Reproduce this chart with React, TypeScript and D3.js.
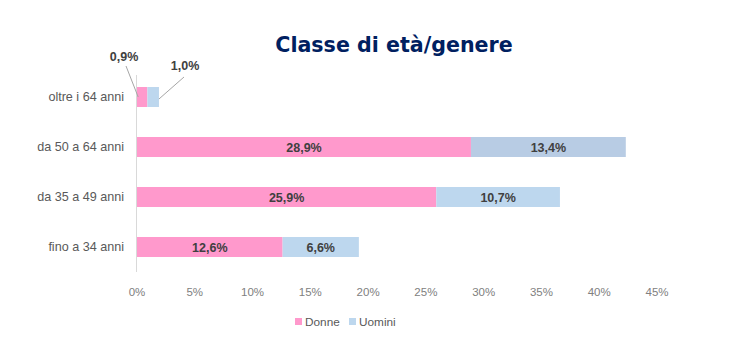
import React from "react";
import * as d3 from "d3";

const categories = ["oltre i 64 anni", "da 50 a 64 anni", "da 35 a 49 anni", "fino a 34 anni"];
const donne = [0.9, 28.9, 25.9, 12.6];
const uomini = [1.0, 13.4, 10.7, 6.6];
const ticks = [0, 5, 10, 15, 20, 25, 30, 35, 40, 45];
const seriesNames = ["Donne", "Uomini"];

const W = 733, H = 360;
const PINK = "#ff99cc";
const BLUE = "#bdd7ee";
const fmt = (v: number) => v.toFixed(1).replace(".", ",") + "%";

export default function App() {
  const x = d3.scaleLinear().domain([0, 45]).range([137, 657]);
  const y = d3.scaleBand().domain(categories).range([72, 272]).paddingInner(0.6).paddingOuter(0.3);
  const bh = y.bandwidth();
  const font = "'Liberation Sans', Arial, sans-serif";
  return (
    <svg width={W} height={H} style={{ position: "absolute", left: 0, top: 0, background: "#fff" }}>
      <text x={394} y={52} textAnchor="middle" fontFamily="'DejaVu Sans', Verdana, sans-serif" fontWeight="bold" fontSize={20.6} fill="#002060">Classe di età/genere</text>
      <line x1={136.5} x2={136.5} y1={75} y2={272} stroke="#d9d9d9" strokeWidth={1} />
      {categories.map((c, i) => {
        const yc = (y(c) as number);
        const d = donne[i], u = uomini[i];
        const big = i > 0;
        return (
          <g key={c}>
            <text x={124} y={yc + bh / 2 + 4} textAnchor="end" fontFamily={font} fontSize={12.6} fill="#595959">{c}</text>
            <rect x={x(0)} y={yc} width={x(d) - x(0)} height={bh} fill={PINK} />
            <rect x={x(d)} y={yc} width={x(d + u) - x(d)} height={bh} fill={i === 1 ? "#b8cce4" : BLUE} />
            {big && (
              <>
                <text x={(x(0) + x(d)) / 2} y={yc + bh / 2 + 4.5} textAnchor="middle" fontFamily={font} fontWeight="bold" fontSize={12.5} fill="#404040">{fmt(d)}</text>
                <text x={(x(d) + x(d + u)) / 2} y={yc + bh / 2 + 4.5} textAnchor="middle" fontFamily={font} fontWeight="bold" fontSize={12.5} fill="#404040">{fmt(u)}</text>
              </>
            )}
            {!big && (
              <>
                <line x1={126} y1={66} x2={(x(0) + x(d)) / 2 - 4} y2={yc + bh / 2} stroke="#a6a6a6" strokeWidth={1} />
                <text x={124} y={61} textAnchor="middle" fontFamily={font} fontWeight="bold" fontSize={12.5} fill="#404040">{fmt(d)}</text>
                <line x1={184} y1={77} x2={x(d + u)} y2={yc + bh / 2 + 2} stroke="#a6a6a6" strokeWidth={1} />
                <text x={185} y={70} textAnchor="middle" fontFamily={font} fontWeight="bold" fontSize={12.5} fill="#404040">{fmt(u)}</text>
              </>
            )}
          </g>
        );
      })}
      {ticks.map((t) => (
        <text key={t} x={x(t)} y={296} textAnchor="middle" fontFamily={font} fontSize={11.5} fill="#808080">{t}%</text>
      ))}
      {seriesNames.map((s, i) => {
        const lx = i === 0 ? 295 : 349;
        return (
          <g key={s}>
            <rect x={lx} y={318} width={7} height={7} fill={i === 0 ? PINK : BLUE} />
            <text x={lx + 10} y={326} fontFamily={font} fontSize={11.8} fill="#595959">{s}</text>
          </g>
        );
      })}
    </svg>
  );
}
